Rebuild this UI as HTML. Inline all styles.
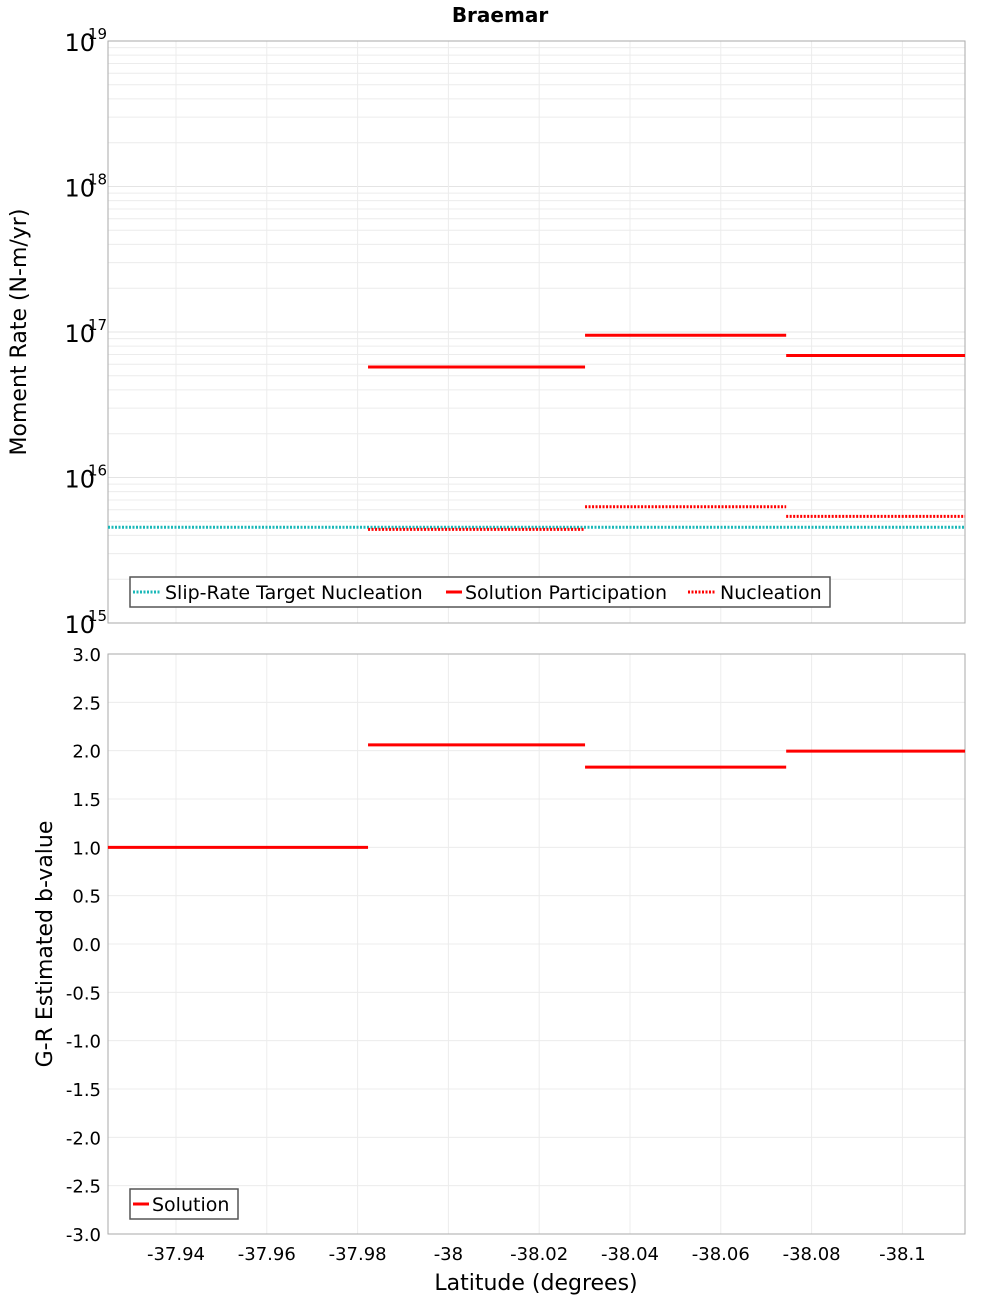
<!DOCTYPE html>
<html><head><meta charset="utf-8"><style>
body{margin:0;background:#fff;font-family:"DejaVu Sans","Liberation Sans",sans-serif}
</style></head><body>
<svg id="chart" width="1000" height="1300" xmlns="http://www.w3.org/2000/svg" font-family="DejaVu Sans, Liberation Sans, sans-serif"></svg>
<script>
// ---- data ----
const segBounds = [-37.925, -37.9823, -38.0301, -38.0744, -38.1138];
const participation = [null, 5.75e16, 9.5e16, 6.9e16];
const nucleation = [null, 4.4e15, 6.3e15, 5.4e15];
const targetNucleation = [4.55e15];
const bValues = [1.0, 2.06, 1.83, 1.995];
const xTicks = [-37.94, -37.96, -37.98, -38, -38.02, -38.04, -38.06, -38.08, -38.1];
const xTickLabels = ["-37.94","-37.96","-37.98","-38","-38.02","-38.04","-38.06","-38.08","-38.1"];
const logDecades = [15, 16, 17, 18, 19];
const bTicks = [3,2.5,2,1.5,1,0.5,0,-0.5,-1,-1.5,-2,-2.5,-3];

const svg = document.getElementById('chart');
const NS = 'http://www.w3.org/2000/svg';
function mk(tag, attrs, parent){const e=document.createElementNS(NS,tag);for(const k in attrs)e.setAttribute(k,attrs[k]);(parent||svg).appendChild(e);return e;}
const L=108,R=965,T1=41,B1=623,T2=654,B2=1234;
const xS = v => 176 + (-37.94 - v) * 4540;
const yLog = v => T1 + (19 - Math.log10(v)) * (B1-T1)/4;
const yB = v => T2 + (3 - v) * (B2-T2)/6;

// title
let t=mk('text',{x:500,y:22,'text-anchor':'middle','font-size':20,'font-weight':'bold'});t.textContent='Braemar';



// ---- top panel ----
let g=mk('g',{});


for(let d=15;d<19;d++){for(let m=2;m<=9;m++){const y=yLog(m*Math.pow(10,d));mk('line',{x1:L,x2:R,y1:y,y2:y,stroke:'#ececec','stroke-width':1},g);}}
logDecades.forEach(d=>{const y=yLog(Math.pow(10,d));mk('line',{x1:L,x2:R,y1:y,y2:y,stroke:'#e4e4e4'},g);
 const tx=mk('text',{x:95,y:y+10,'text-anchor':'end','font-size':24},g);tx.textContent='10';
 
 
 const sp=mk('text',{x:88,y:y-2,'font-size':15},g);sp.textContent=String(d);
 
 });
xTicks.forEach(v=>{mk('line',{x1:xS(v),x2:xS(v),y1:T1,y2:B1,stroke:'#ececec'},g);});
mk('rect',{x:L,y:T1,width:R-L,height:B1-T1,fill:'none',stroke:'#aaa'},g);
for(let i=0;i<4;i++){
 if(participation[i]!=null){const y=yLog(participation[i]);const l=mk('line',{x1:xS(segBounds[i]),x2:xS(segBounds[i+1]),y1:y,y2:y,stroke:'#f00','stroke-width':3},g);
  
  }
}
{const y=yLog(targetNucleation[0]);const l=mk('line',{x1:L,x2:R,y1:y,y2:y,stroke:'#1ab8b8','stroke-width':3,'stroke-dasharray':'2 1.5'},g);
 
 }
for(let i=0;i<4;i++){
 if(nucleation[i]!=null){const y=yLog(nucleation[i]);const l=mk('line',{x1:xS(segBounds[i]),x2:xS(segBounds[i+1]),y1:y,y2:y,stroke:'#f00','stroke-width':3,'stroke-dasharray':'2 1.5'},g);
  
  }
}
t=mk('text',{transform:'translate(26,332) rotate(-90)','text-anchor':'middle','font-size':22});t.textContent='Moment Rate (N-m/yr)';


// legend top
let lg=mk('g',{});


mk('rect',{x:130,y:577,width:700,height:30,fill:'#fff',stroke:'#555','stroke-width':1.5},lg);
mk('line',{x1:133,x2:161,y1:592,y2:592,stroke:'#1ab8b8','stroke-width':3,'stroke-dasharray':'2 1.5'},lg);
t=mk('text',{x:165,y:599,'font-size':19},lg);t.textContent='Slip-Rate Target Nucleation';
mk('line',{x1:446,x2:462,y1:592,y2:592,stroke:'#f00','stroke-width':3},lg);
t=mk('text',{x:465,y:599,'font-size':19},lg);t.textContent='Solution Participation';
mk('line',{x1:688,x2:716,y1:592,y2:592,stroke:'#f00','stroke-width':3,'stroke-dasharray':'2 1.5'},lg);
t=mk('text',{x:720,y:599,'font-size':19},lg);t.textContent='Nucleation';

// ---- bottom panel ----
g=mk('g',{});


bTicks.forEach(v=>{const y=yB(v);mk('line',{x1:L,x2:R,y1:y,y2:y,stroke:'#ececec'},g);
 const tx=mk('text',{x:101,y:y+7,'text-anchor':'end','font-size':18},g);tx.textContent=v.toFixed(1);
 
 });
xTicks.forEach((v,i)=>{mk('line',{x1:xS(v),x2:xS(v),y1:T2,y2:B2,stroke:'#ececec'},g);
 const tx=mk('text',{x:xS(v),y:1260,'text-anchor':'middle','font-size':18},g);tx.textContent=xTickLabels[i];
 
 });
mk('rect',{x:L,y:T2,width:R-L,height:B2-T2,fill:'none',stroke:'#aaa'},g);
for(let i=0;i<4;i++){const y=yB(bValues[i]);const l=mk('line',{x1:xS(segBounds[i]),x2:xS(segBounds[i+1]),y1:y,y2:y,stroke:'#f00','stroke-width':3},g);
 
 }
t=mk('text',{transform:'translate(52,944) rotate(-90)','text-anchor':'middle','font-size':22});t.textContent='G-R Estimated b-value';


t=mk('text',{x:536,y:1290,'text-anchor':'middle','font-size':22});t.textContent='Latitude (degrees)';


lg=mk('g',{});


mk('rect',{x:130,y:1189,width:108,height:30,fill:'#fff',stroke:'#555','stroke-width':1.5},lg);
mk('line',{x1:133,x2:149,y1:1204,y2:1204,stroke:'#f00','stroke-width':3},lg);
t=mk('text',{x:152,y:1211,'font-size':19},lg);t.textContent='Solution';
</script>
</body></html>
